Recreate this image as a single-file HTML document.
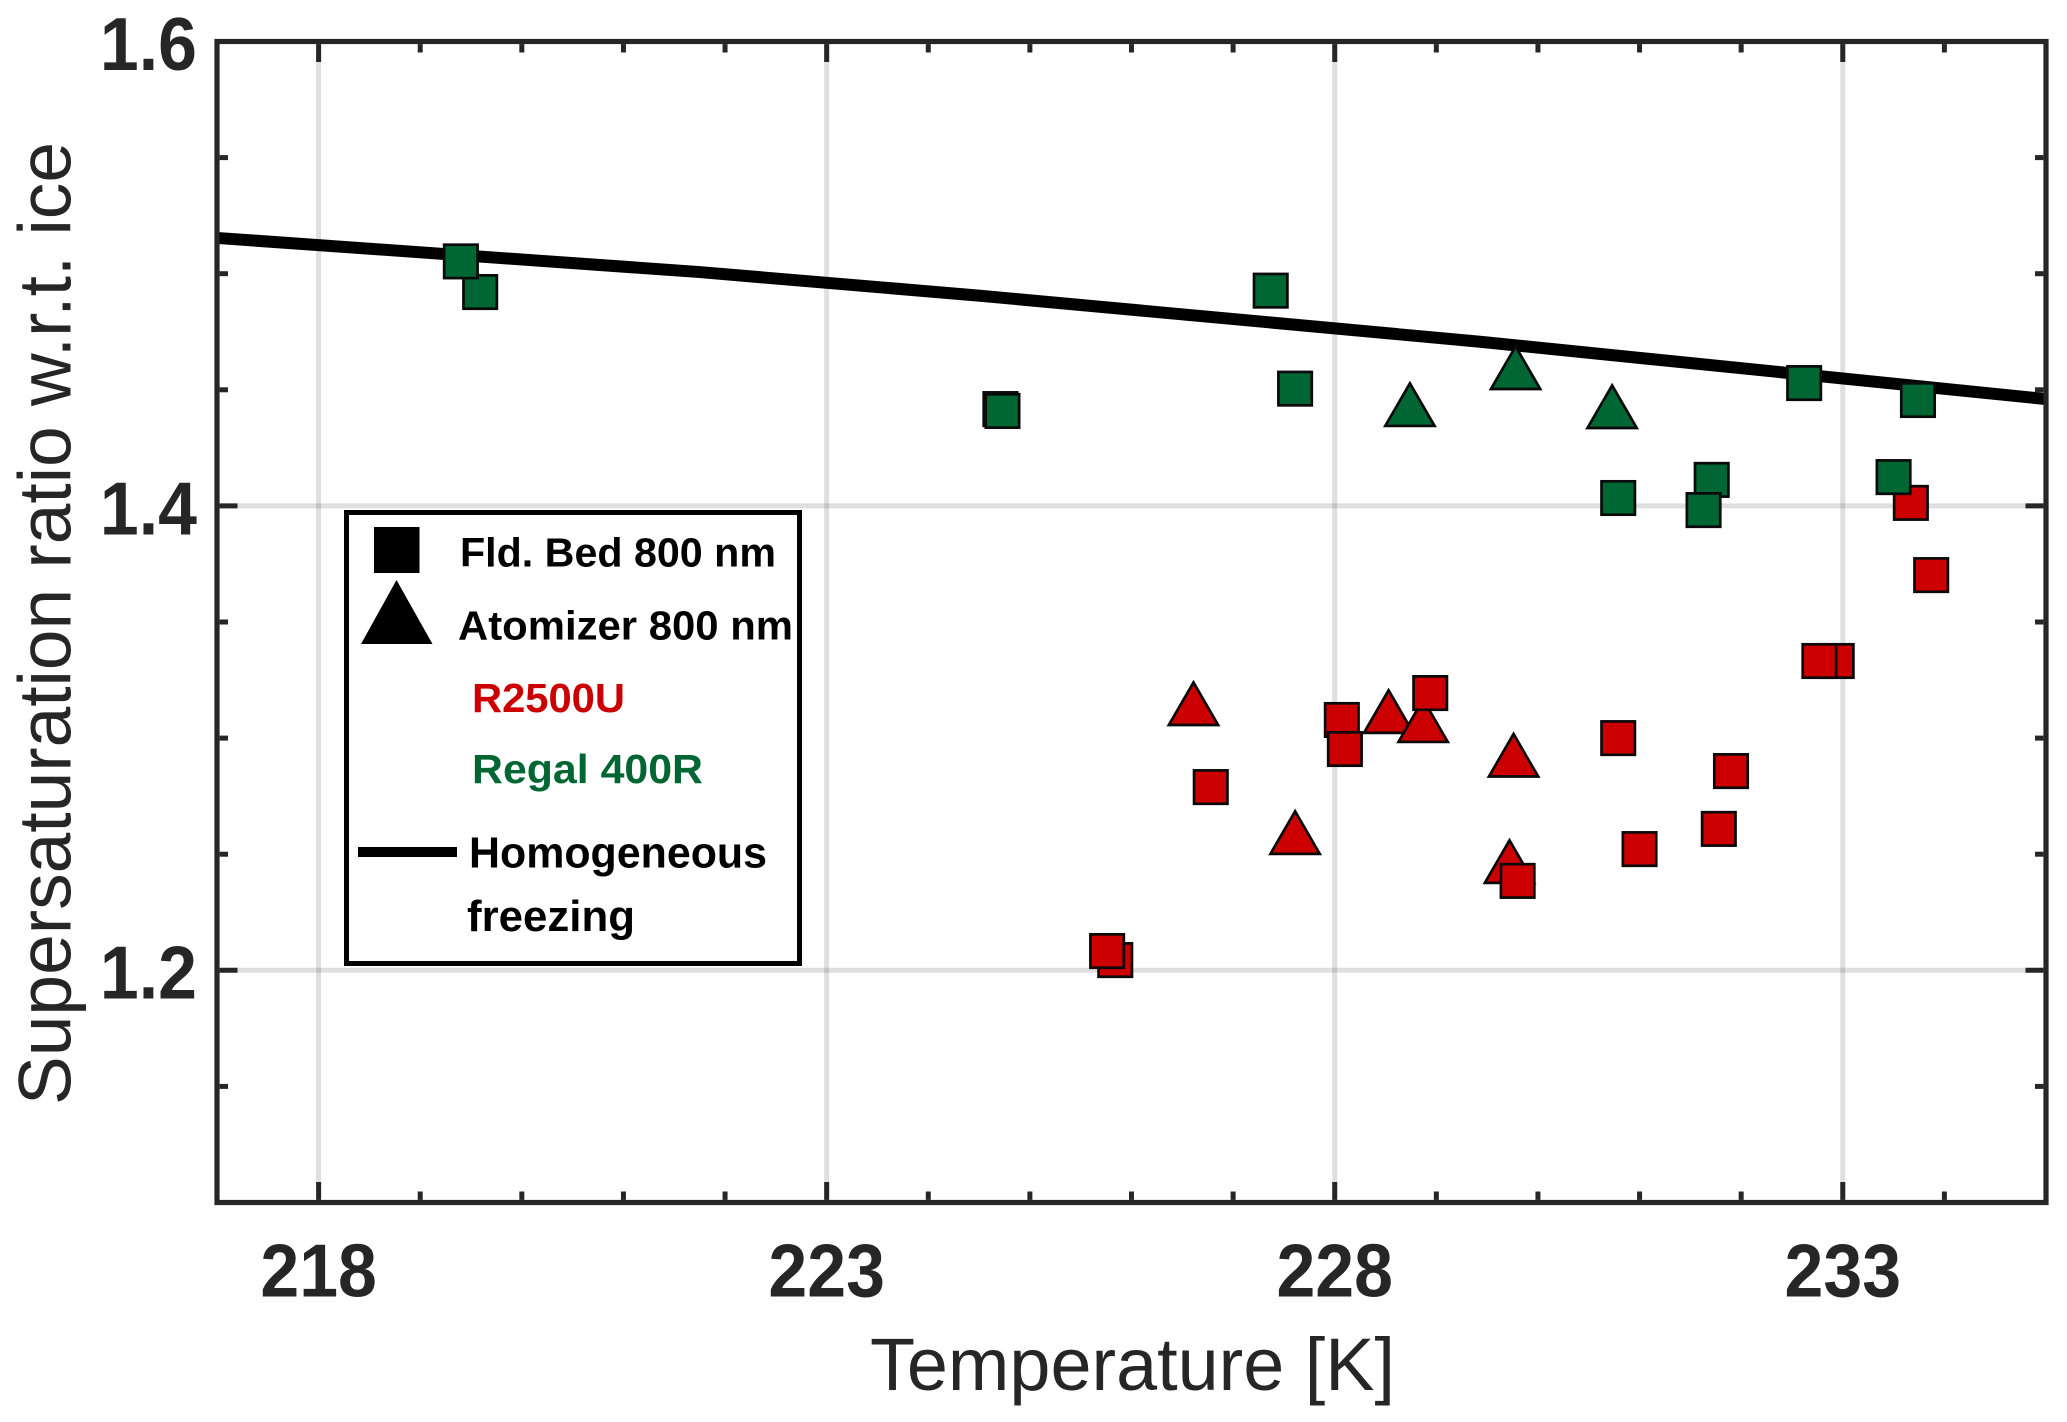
<!DOCTYPE html>
<html lang="en">
<head>
<meta charset="utf-8">
<title>Supersaturation ratio vs temperature</title>
<style>
  html, body { margin: 0; padding: 0; background: #ffffff; }
  svg { display: block; font-family: "Liberation Sans", sans-serif; }
  .tick-label { font-size: 72px; font-weight: 700; fill: #262626; }
  .axis-title { font-size: 74px; fill: #262626; }
  .legend-text { font-size: 41px; font-weight: 700; fill: #000000; }
</style>
</head>
<body>
<svg id="chart" xmlns="http://www.w3.org/2000/svg" width="2067" height="1422" viewBox="0 0 2067 1422">
  <g id="grid-layer"></g>
  <g id="series-layer"></g>
  <g id="axis-layer"></g>

  <text class="axis-title" x="870" y="1390" textLength="525" lengthAdjust="spacingAndGlyphs">Temperature [K]</text>
  <text class="axis-title" transform="translate(70.5,1105) rotate(-90)" textLength="963" lengthAdjust="spacingAndGlyphs">Supersaturation ratio w.r.t. ice</text>

  <g>
    <rect x="346.5" y="512.5" width="453" height="451" fill="#ffffff" stroke="#000000" stroke-width="5"></rect>
    <rect x="374" y="527" width="45.5" height="46" fill="#000000"></rect>
    <polygon points="396.5,580 432.5,644 361,644" fill="#000000"></polygon>
    <rect x="358" y="847" width="99" height="10" fill="#000000"></rect>
    <text class="legend-text" x="460" y="566.5" textLength="316" lengthAdjust="spacingAndGlyphs">Fld. Bed 800 nm</text>
    <text class="legend-text" x="458" y="639.5" textLength="335" lengthAdjust="spacingAndGlyphs">Atomizer 800 nm</text>
    <text class="legend-text" x="472" y="712" textLength="153" lengthAdjust="spacingAndGlyphs" style="fill:#cc0000">R2500U</text>
    <text class="legend-text" x="472" y="783" textLength="231" lengthAdjust="spacingAndGlyphs" style="fill:#006633">Regal 400R</text>
    <text class="legend-text" x="469" y="867.5" textLength="298" lengthAdjust="spacingAndGlyphs" style="font-size:44px">Homogeneous</text>
    <text class="legend-text" x="467" y="931" textLength="168" lengthAdjust="spacingAndGlyphs" style="font-size:44px">freezing</text>
  </g>
</svg>

<script>
// Axis ticks and labels
const xMajorTicks = [218, 223, 228, 233];
const xMinorTicks = [219, 220, 221, 222, 224, 225, 226, 227, 229, 230, 231, 232, 234];
const xTickLabels = ["218", "223", "228", "233"];
const yMajorTicks = [1.2, 1.4, 1.6];
const yMinorTicks = [1.15, 1.25, 1.3, 1.35, 1.45, 1.5, 1.55];
const yTickLabels = ["1.2", "1.4", "1.6"];

// Homogeneous freezing line
const homogeneousT = [217.00, 221.75, 224.51, 229.43, 235.00];
const homogeneousS = [1.5154, 1.5007, 1.4905, 1.4707, 1.4460];

// R2500U, atomizer (triangles)
const redTriangleT = [226.61, 228.53, 228.87, 229.76, 227.61, 229.72];
const redTriangleS = [1.3151, 1.3117, 1.3078, 1.2929, 1.2596, 1.2471];

// Regal 400R, atomizer (triangles)
const greenTriangleT = [228.74, 229.78, 230.73];
const greenTriangleS = [1.4439, 1.4598, 1.4430];

// R2500U, fluidized bed (squares)
const redSquareT = [225.84, 225.76, 228.07, 228.10, 228.94, 226.78, 230.79, 231.90, 231.78, 231.00, 229.80, 233.67, 233.87, 232.94, 232.77];
const redSquareS = [1.2044, 1.2083, 1.3078, 1.2953, 1.3194, 1.2789, 1.3000, 1.2858, 1.2609, 1.2522, 1.2385, 1.4013, 1.3702, 1.3332, 1.3332];

// Regal 400R, fluidized bed (squares)
const greenSquareT = [219.59, 219.40, 224.71, 224.73, 227.37, 227.61, 230.79, 231.71, 231.63, 232.62, 233.74, 233.50];
const greenSquareS = [1.4921, 1.5053, 1.4417, 1.4409, 1.4927, 1.4505, 1.4034, 1.4112, 1.3982, 1.4529, 1.4456, 1.4124];

const NS = "http://www.w3.org/2000/svg";
const plotLeft = 217, plotRight = 2046, plotTop = 41.5, plotBottom = 1202.5;
const xMin = 217, xMax = 235, yMin = 1.1, yMax = 1.6;
function xScale(v) { return plotLeft + (v - xMin) / (xMax - xMin) * (plotRight - plotLeft); }
function yScale(v) { return plotBottom - (v - yMin) / (yMax - yMin) * (plotBottom - plotTop); }

const gridLayer = document.getElementById("grid-layer");
const seriesLayer = document.getElementById("series-layer");
const axisLayer = document.getElementById("axis-layer");

function makeLine(x1, y1, x2, y2, stroke, width, opacity) {
  const el = document.createElementNS(NS, "line");
  el.setAttribute("x1", x1);
  el.setAttribute("y1", y1);
  el.setAttribute("x2", x2);
  el.setAttribute("y2", y2);
  el.setAttribute("stroke", stroke);
  el.setAttribute("stroke-width", width);
  el.setAttribute("stroke-opacity", opacity);
  return el;
}

// Grid
xMajorTicks.forEach(function (t) {
  const el = makeLine(xScale(t), plotTop, xScale(t), plotBottom, "#262626", 5, 0.15);
  
  
  gridLayer.appendChild(el);
});
yMajorTicks.slice(0, 2).forEach(function (t) {
  const el = makeLine(plotLeft, yScale(t), plotRight, yScale(t), "#262626", 5, 0.15);
  
  
  gridLayer.appendChild(el);
});

// Homogeneous freezing curve
const curve = document.createElementNS(NS, "polyline");


curve.setAttribute("points", homogeneousT.map(function (t, i) {
  return xScale(t) + "," + yScale(homogeneousS[i]);
}).join(" "));
curve.setAttribute("fill", "none");
curve.setAttribute("stroke", "#000000");
curve.setAttribute("stroke-width", "12");
curve.setAttribute("stroke-linejoin", "round");
seriesLayer.appendChild(curve);

// Markers
function drawTriangles(ts, ss, color, name) {
  ts.forEach(function (t, i) {
    const cx = xScale(t), cy = yScale(ss[i]);
    const el = document.createElementNS(NS, "polygon");
    
    
    el.setAttribute("points",
      cx + "," + (cy - 20.6) + " " +
      (cx + 24.65) + "," + (cy + 21.95) + " " +
      (cx - 24.65) + "," + (cy + 21.95));
    el.setAttribute("fill", color);
    el.setAttribute("stroke", "#0a0a0a");
    el.setAttribute("stroke-width", "2.7");
    el.setAttribute("stroke-linejoin", "miter");
    seriesLayer.appendChild(el);
  });
}
function drawSquares(ts, ss, color, name) {
  ts.forEach(function (t, i) {
    const cx = xScale(t), cy = yScale(ss[i]);
    const el = document.createElementNS(NS, "rect");
    
    
    el.setAttribute("x", cx - 16.7);
    el.setAttribute("y", cy - 16.7);
    el.setAttribute("width", 33.4);
    el.setAttribute("height", 33.4);
    el.setAttribute("fill", color);
    el.setAttribute("stroke", "#0a0a0a");
    el.setAttribute("stroke-width", "2.7");
    seriesLayer.appendChild(el);
  });
}
drawTriangles(redTriangleT, redTriangleS, "#cc0000", "r2500u-atomizer-point");
drawTriangles(greenTriangleT, greenTriangleS, "#006633", "regal-400r-atomizer-point");
drawSquares(redSquareT, redSquareS, "#cc0000", "r2500u-fluidized-bed-point");
drawSquares(greenSquareT, greenSquareS, "#006633", "regal-400r-fluidized-bed-point");

// Ticks on all four sides
const frameInset = 2.6, majorLen = 20.5, minorLen = 11;
function drawXTicks(list, len, name) {
  list.forEach(function (t) {
    const x = xScale(t);
    const bottomTick = makeLine(x, plotBottom - frameInset, x, plotBottom - len, "#262626", 5, 1);
    
    
    axisLayer.appendChild(bottomTick);
    const topTick = makeLine(x, plotTop + frameInset, x, plotTop + len, "#262626", 5, 1);
    
    
    axisLayer.appendChild(topTick);
  });
}
function drawYTicks(list, len, name) {
  list.forEach(function (v) {
    const y = yScale(v);
    const leftTick = makeLine(plotLeft + frameInset, y, plotLeft + len, y, "#262626", 5, 1);
    
    
    axisLayer.appendChild(leftTick);
    const rightTick = makeLine(plotRight - frameInset, y, plotRight - len, y, "#262626", 5, 1);
    
    
    axisLayer.appendChild(rightTick);
  });
}
drawXTicks(xMajorTicks, majorLen, "x-major-tick");
drawXTicks(xMinorTicks, minorLen, "x-minor-tick");
drawYTicks(yMajorTicks.slice(0, 2), majorLen, "y-major-tick");
drawYTicks(yMinorTicks, minorLen, "y-minor-tick");

// Plot frame
const frame = document.createElementNS(NS, "rect");


frame.setAttribute("x", plotLeft);
frame.setAttribute("y", plotTop);
frame.setAttribute("width", plotRight - plotLeft);
frame.setAttribute("height", plotBottom - plotTop);
frame.setAttribute("fill", "none");
frame.setAttribute("stroke", "#262626");
frame.setAttribute("stroke-width", "5.2");
axisLayer.appendChild(frame);

// Tick labels
xMajorTicks.forEach(function (t, i) {
  const label = document.createElementNS(NS, "text");
  
  
  label.setAttribute("class", "tick-label");
  label.setAttribute("transform", "translate(" + xScale(t) + ",1296.5) scale(0.97,1.05)");
  label.setAttribute("text-anchor", "middle");
  label.textContent = xTickLabels[i];
  axisLayer.appendChild(label);
});
yMajorTicks.forEach(function (v, i) {
  const label = document.createElementNS(NS, "text");
  
  
  label.setAttribute("class", "tick-label");
  label.setAttribute("transform", "translate(197," + (yScale(v) + 28.4) + ") scale(0.97,1.05)");
  label.setAttribute("text-anchor", "end");
  label.textContent = yTickLabels[i];
  axisLayer.appendChild(label);
});
</script>
</body>
</html>
